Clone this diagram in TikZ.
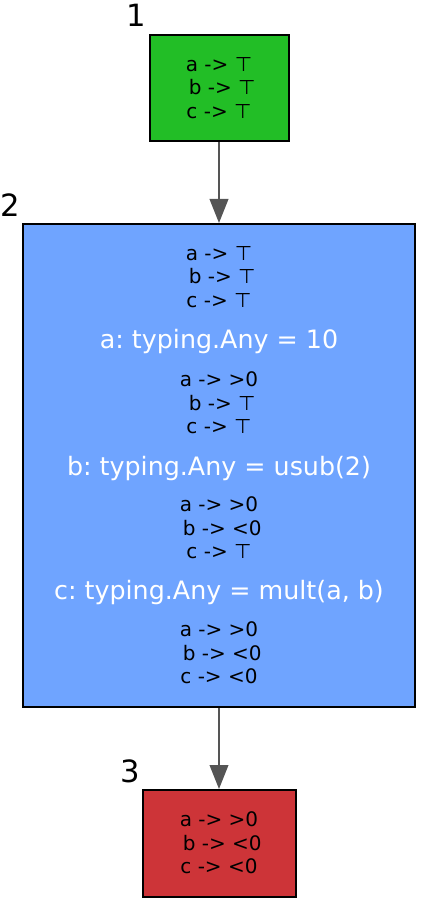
\documentclass[tikz,border=0pt]{standalone}
\usepackage{fontspec}
\setmainfont{DejaVu Sans}
\usepackage{tikz}
\usetikzlibrary{arrows.meta}
\definecolor{block-green}{RGB}{34,190,38}
\definecolor{block-blue}{RGB}{111,164,255}
\definecolor{block-red}{RGB}{205,52,56}
\definecolor{edge-gray}{RGB}{85,85,85}
\newcommand{\tp}{⊤}
\newcommand{\lead}{\hspace*{0.32em}}
\frenchspacing

\begin{document}
\begin{tikzpicture}[x=0.75pt, y=-0.75pt,
  blk/.style={draw=black, line width=1.5pt, inner sep=0pt},
  st/.style={align=center, inner sep=0pt, font=\fontsize{15}{17.5}\selectfont},
  stmt/.style={inner sep=0pt, text=white, font=\fontsize{19}{23}\selectfont},
  num/.style={inner sep=0pt, font=\fontsize{23}{27}\selectfont},
  flow/.style={draw=edge-gray, line width=1.3pt, -{Triangle[length=18pt, width=14pt]}}]%CFG states
\useasboundingbox (0,0) rectangle (440,902);
  % blocks
  \node [blk, fill=block-green, minimum width=104.25pt, minimum height=79.5pt] (b1) at (219,88) {};
  \node [blk, fill=block-blue, minimum width=294pt, minimum height=362.25pt] (b2) at (219,465.5) {};
  \node [blk, fill=block-red, minimum width=114.75pt, minimum height=80.25pt] (b3) at (219,843.5) {};
  \node [num] (n1) at (136,15) {1};
  \node [num] (n2) at (10,205) {2};
  \node [num] (n3) at (130,771) {3};
  % block 1
  \node [st] (s1) at (219,88) {a -> \tp\\\lead b -> \tp\\c -> \tp};
  % block 2
  \node [st] (s2a) at (219,277) {a -> \tp\\\lead b -> \tp\\c -> \tp};
  \node [stmt] (e2a) at (219,342) {a: typing.Any = 10};
  \node [st] (s2b) at (219,403) {a -> >0\\\lead b -> \tp\\c -> \tp};
  \node [stmt] (e2b) at (219,469) {b: typing.Any = usub(2)};
  \node [st] (s2c) at (219,528) {a -> >0\\\lead b -> <0\\c -> \tp};
  \node [stmt] (e2c) at (219,593) {c: typing.Any = mult(a, b)};
  \node [st] (s2d) at (219,653) {a -> >0\\\lead b -> <0\\c -> <0};
  % block 3
  \node [st] (s3) at (219,843) {a -> >0\\\lead b -> <0\\c -> <0};
  % edges
  \draw [flow] (b1) -- (b2);
  \draw [flow] (b2) -- (b3);
\end{tikzpicture}
\end{document}
